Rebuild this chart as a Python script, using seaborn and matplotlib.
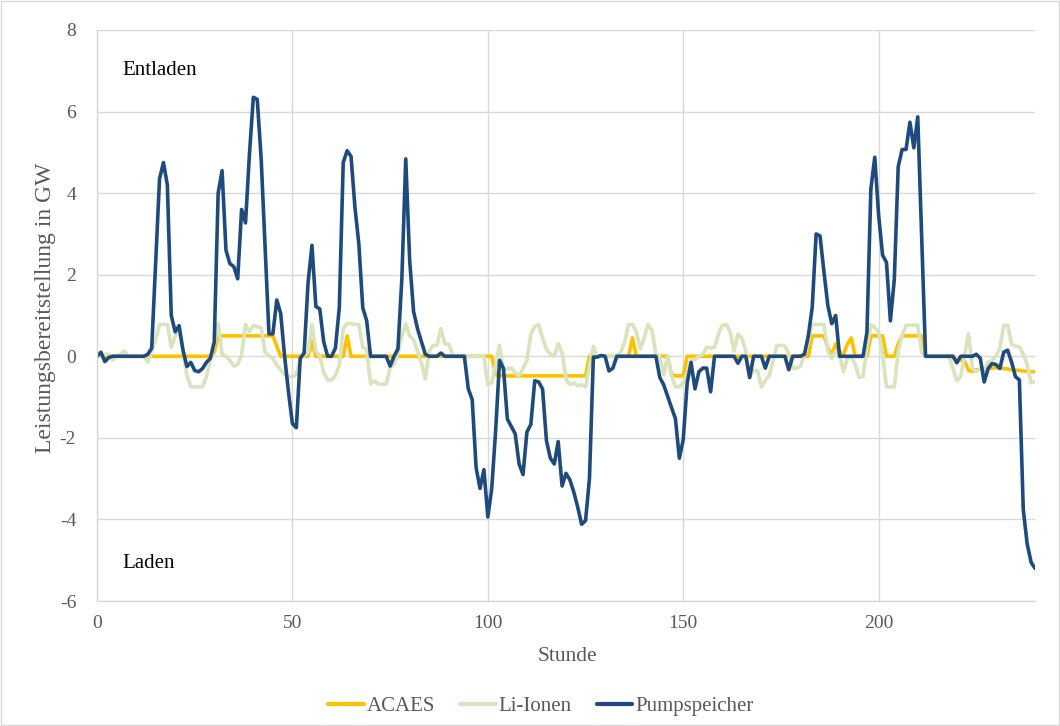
import matplotlib
matplotlib.use("Agg")
import matplotlib.pyplot as plt
import numpy as np
import pandas as pd
import seaborn as sns
from matplotlib.patches import Rectangle

# Hourly storage dispatch (GW) over 240 hours; positive = discharging, negative = charging
hours = list(range(241))

acaes = [
    0, 0, 0, 0, 0, 0, 0, 0, 0, 0,
    0, 0, 0, 0, 0, 0, 0, 0, 0, 0,
    0, 0, 0, 0, 0, 0, 0, 0, 0, 0,
    0.1, 0.5, 0.5, 0.5, 0.5, 0.5, 0.5, 0.5, 0.5, 0.5,
    0.5, 0.5, 0.5, 0.5, 0.5, 0.5, 0.25, 0, 0, 0,
    0, 0, 0, 0, 0, 0.36, 0, 0, 0, 0,
    0, 0, 0, 0, 0.5, 0, 0, 0, 0, 0,
    0, 0, 0, 0, 0, 0, 0, 0, 0, 0,
    0, 0, 0, 0, 0, 0, 0, 0, 0, 0,
    0, 0, 0, 0, 0, 0, 0, 0, 0, 0,
    0, 0, -0.45, -0.48, -0.48, -0.48, -0.48, -0.48, -0.48, -0.48,
    -0.48, -0.48, -0.48, -0.48, -0.48, -0.48, -0.48, -0.48, -0.48, -0.48,
    -0.48, -0.48, -0.48, -0.48, -0.48, -0.48, 0, 0, 0, 0,
    0, 0, 0, 0, 0, 0, 0, 0.45, 0, 0,
    0, 0, 0, 0, 0, 0, 0, -0.45, -0.48, -0.48,
    -0.48, 0, 0, 0, 0, 0, 0, 0, 0, 0,
    0, 0, 0, 0, 0, 0, 0, 0, 0, 0,
    0, 0, 0, 0, 0, 0, 0, 0, 0, 0,
    0, 0, 0, 0.5, 0.5, 0.5, 0.5, 0.22, 0.02, 0.3,
    0.1, 0.05, 0.3, 0.45, 0, 0, 0, 0, 0.5, 0.5,
    0.5, 0.5, 0, 0, 0, 0.3, 0.5, 0.5, 0.5, 0.5,
    0.5, 0.5, 0, 0, 0, 0, 0, 0, 0, 0,
    -0.1, -0.1, -0.12, -0.35, -0.37, -0.33, -0.32, -0.3, -0.3, -0.29,
    -0.28, -0.28, -0.3, -0.31, -0.33, -0.34, -0.35, -0.36, -0.37, -0.38,
    -0.38,
]

li_ionen = [
    0, 0, 0.05, 0.05, -0.1, 0, 0.05, 0.13, 0, 0,
    0, 0, 0, -0.15, 0.13, 0.4, 0.78, 0.78, 0.78, 0.22,
    0.5, 0.6, 0.15, -0.47, -0.75, -0.75, -0.75, -0.75, -0.5, -0.1,
    0.3, 0.8, 0.05, 0, -0.1, -0.24, -0.2, 0.03, 0.78, 0.6,
    0.76, 0.72, 0.7, 0.1, 0.02, -0.05, -0.22, -0.33, -0.45, -0.5,
    -0.5, -0.45, -0.05, 0.02, 0.1, 0.78, 0.13, 0.0, -0.4, -0.58,
    -0.58, -0.47, -0.22, 0.68, 0.8, 0.8, 0.78, 0.78, 0.22, 0.18,
    -0.68, -0.6, -0.68, -0.68, -0.68, -0.29, -0.2, 0.08, 0.5, 0.8,
    0.5, 0.4, 0.13, -0.15, -0.56, 0.13, 0.27, 0.27, 0.68, 0.3,
    0.3, 0.05, 0, 0, 0, 0, 0, 0, 0, 0,
    -0.7, -0.65, -0.2, 0.27, -0.34, -0.3, -0.29, -0.4, -0.47, -0.3,
    -0.1, 0.54, 0.73, 0.78, 0.45, 0.17, 0.05, 0.0, 0.31, 0.08,
    -0.56, -0.7, -0.65, -0.72, -0.7, -0.75, -0.24, 0.24, 0, 0,
    0, 0, 0, 0, 0.1, 0.35, 0.78, 0.78, 0.6, 0.18,
    0.45, 0.78, 0.64, 0.04, 0.0, -0.45, 0.0, -0.47, -0.75, -0.75,
    -0.65, -0.4, -0.1, -0.08, 0.0, 0.05, 0.22, 0.2, 0.22, 0.54,
    0.76, 0.78, 0.6, 0.13, 0.54, 0.45, 0.13, -0.52, -0.35, -0.35,
    -0.75, -0.6, -0.47, -0.1, 0.27, 0.27, 0.25, 0.07, -0.29, -0.29,
    -0.24, 0.05, 0.36, 0.78, 0.78, 0.78, 0.78, 0.13, -0.06, 0.13,
    0.03, -0.38, -0.05, 0.0, -0.2, -0.52, -0.5, 0.22, 0.78, 0.7,
    0.6, 0.05, -0.75, -0.75, -0.75, 0.13, 0.5, 0.76, 0.76, 0.76,
    0.76, 0.1, 0, 0, 0, 0, 0, 0, 0, -0.3,
    -0.6, -0.5, 0.05, 0.55, -0.3, -0.38, -0.3, -0.35, -0.15, -0.1,
    0.0, 0.2, 0.76, 0.76, 0.3, 0.25, 0.23, 0.05, -0.2, -0.65,
    -0.62,
]

pumpspeicher = [
    0, 0.1, -0.13, -0.03, 0, 0, 0, 0, 0, 0,
    0, 0, 0, 0.05, 0.2, 2.3, 4.35, 4.75, 4.2, 1.0,
    0.6, 0.75, 0.15, -0.25, -0.15, -0.35, -0.38, -0.3, -0.15, -0.05,
    0.35, 4.0, 4.55, 2.6, 2.27, 2.2, 1.9, 3.6, 3.27, 4.95,
    6.35, 6.3, 4.85, 2.7, 0.55, 0.55, 1.38, 1.05, 0.0, -0.88,
    -1.65, -1.75, -0.05, 0.08, 1.8, 2.72, 1.22, 1.16, 0.36, 0.0,
    0.0, 0.2, 1.2, 4.75, 5.04, 4.9, 3.65, 2.75, 1.19, 0.87,
    0, 0, 0, 0, 0, -0.24, 0, 0.18, 1.9, 4.84,
    2.35, 1.1, 0.68, 0.36, 0.05, 0, 0, 0, 0.08, 0,
    0, 0, 0, 0, 0, -0.8, -1.06, -2.73, -3.24, -2.78,
    -3.94, -3.24, -1.82, -0.1, -0.3, -1.54, -1.72, -1.9, -2.64, -2.9,
    -1.86, -1.67, -0.6, -0.63, -0.8, -2.07, -2.5, -2.64, -2.09, -3.18,
    -2.87, -3.03, -3.33, -3.7, -4.12, -4.03, -3.0, -0.02, -0.02, 0.02,
    0, -0.36, -0.29, 0, 0, 0, 0, 0, 0, 0,
    0, 0, 0, 0, -0.52, -0.7, -0.98, -1.26, -1.53, -2.5,
    -2.04, -0.66, -0.15, -0.8, -0.38, -0.29, -0.29, -0.87, 0, 0,
    0, 0, 0, 0, -0.17, 0, 0, -0.52, 0, 0,
    0, -0.29, 0, 0, 0, 0, 0, -0.33, 0, 0,
    0, 0.05, 0.5, 1.2, 3.0, 2.95, 2.07, 1.24, 0.8, 1.0,
    0, 0, 0, 0, 0, 0, 0, 0.59, 4.1, 4.88,
    3.45, 2.48, 2.3, 0.87, 1.88, 4.65, 5.07, 5.07, 5.74, 5.11,
    5.87, 2.95, 0, 0, 0, 0, 0, 0, 0, 0,
    -0.16, 0, 0, 0, 0, 0.05, -0.05, -0.63, -0.3, -0.18,
    -0.2, -0.3, 0.1, 0.15, -0.14, -0.5, -0.58, -3.76, -4.6, -5.05,
    -5.2,
]

series_names = ["ACAES", "Li-Ionen", "Pumpspeicher"]
series_colors = ["#FFC000", "#D8E4BC", "#1F4A7C"]

x_ticks = [0, 50, 100, 150, 200]
y_ticks = [-6, -4, -2, 0, 2, 4, 6, 8]

df = pd.DataFrame({
    "Stunde": hours * 3,
    "Leistung": acaes + li_ionen + pumpspeicher,
    "Speicher": (["ACAES"] * len(hours) + ["Li-Ionen"] * len(hours)
                 + ["Pumpspeicher"] * len(hours)),
})

sns.set_theme(style="whitegrid")
plt.rcParams["font.family"] = ["Liberation Serif", "DejaVu Serif"]
plt.rcParams["axes.unicode_minus"] = False

fig = plt.figure(figsize=(10.6, 7.26), dpi=100)
ax = fig.add_axes([97 / 1060, 1 - 601 / 726, (1035 - 97) / 1060, (601 - 30) / 726])

sns.lineplot(
    data=df, x="Stunde", y="Leistung", hue="Speicher",
    hue_order=series_names, palette=series_colors,
    linewidth=2.6, ax=ax, legend=False, estimator=None,
)

ax.set_xlim(0, 240)
ax.set_ylim(-6, 8)
ax.set_xticks(x_ticks)
ax.set_yticks(y_ticks)
ax.tick_params(axis="both", length=0, labelsize=14, labelcolor="#595959")
ax.tick_params(axis="y", pad=15)
ax.tick_params(axis="x", pad=10)
ax.grid(True, color="#D9D9D9", linewidth=1.0)
for side in ["top", "right"]:
    ax.spines[side].set_visible(False)
for side in ["left", "bottom"]:
    ax.spines[side].set_color("#D9D9D9")
    ax.spines[side].set_linewidth(1.0)

ax.set_xlabel("Stunde", fontsize=15.5, color="#595959")
ax.set_ylabel("Leistungsbereitstellung in GW", fontsize=17, color="#595959")
ax.xaxis.set_label_coords((567 - 97) / 938, (601 - 647) / 571)
ax.yaxis.set_label_coords((56 - 97) / 938, (601 - 308) / 571)

ax.text(6.4, 7.0, "Entladen", fontsize=15, color="black", va="center", ha="left")
ax.text(6.4, -5.07, "Laden", fontsize=15, color="black", va="center", ha="left")

handles = [plt.Line2D([], [], color=c, linewidth=3) for c in series_colors]
fig.legend(
    handles, series_names, loc="center", bbox_to_anchor=(541 / 1060, 1 - 706 / 726),
    ncol=3, frameon=False, fontsize=15, handlelength=1.7, handletextpad=0.15,
    columnspacing=1.2, labelcolor="#595959",
)

fig.patches.append(Rectangle((0.001, 0.001), 0.998, 0.998, transform=fig.transFigure,
                             fill=False, edgecolor="#D9D9D9", linewidth=1.0))

fig.savefig("out.png", dpi=100, facecolor="white")
